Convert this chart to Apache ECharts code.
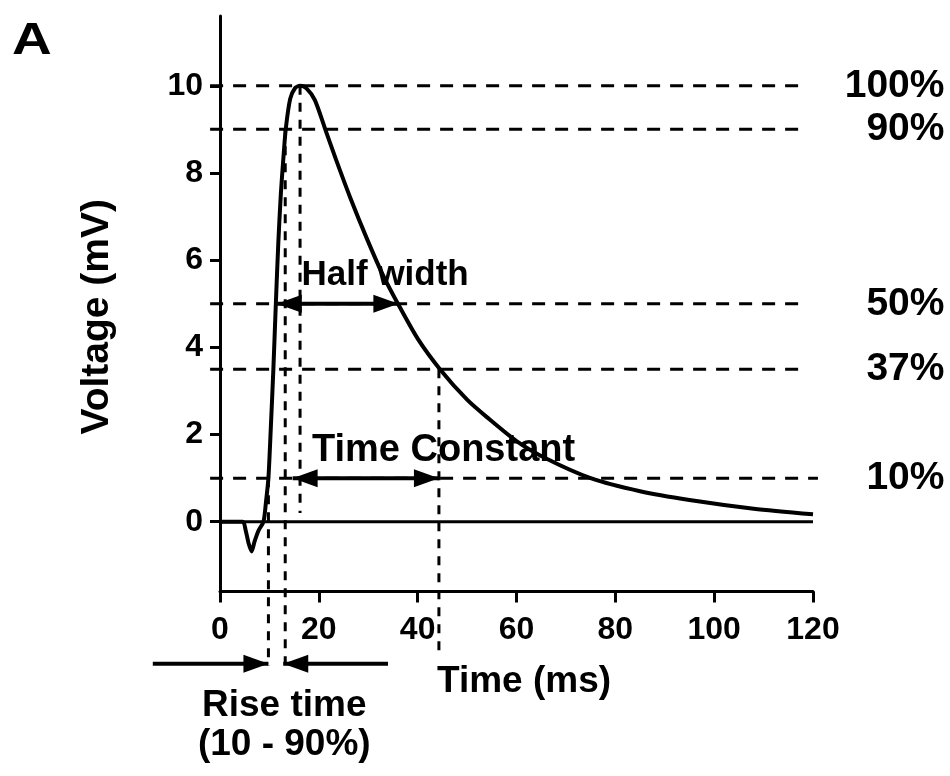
<!DOCTYPE html>
<html>
<head>
<meta charset="utf-8">
<script src="https://cdn.jsdelivr.net/npm/echarts@6/dist/echarts.min.js"></script>
<style>
html,body{margin:0;padding:0;background:#fff;}
#chart{width:950px;height:776px;}
</style>
</head>
<body>
<div id="chart"></div>
<script>
// ---- data ----
const timeMs  = [0, 4.6, 5.2, 5.8, 6.4, 7.0, 7.8, 8.8, 9.3, 9.8, 10.3, 10.8, 11.3, 11.8, 12.3, 12.8, 13.3, 14.2, 15.2, 16.2, 17.5, 19.2, 21.3, 23.5, 26.3, 29.7, 33, 36, 40, 44.5, 50, 54, 60, 66, 75, 85, 95, 108, 120];
const voltage = [0, 0, -0.2, -0.5, -0.68, -0.45, -0.2, 0, 0.45, 1.0, 2.2, 3.5, 5.0, 6.4, 7.5, 8.3, 9.0, 9.7, 9.95, 10.0, 9.94, 9.67, 9.0, 8.3, 7.45, 6.5, 5.65, 5.0, 4.2, 3.5, 2.8, 2.4, 1.85, 1.45, 1.0, 0.7, 0.5, 0.3, 0.17];
const yTickValues = [0, 2, 4, 6, 8, 10];
const levelValues = [10, 9, 5, 3.5, 1];
const levelLabels = ['100%', '90%', '50%', '37%', '10%'];
const riseStart = 9.8;     // 10% crossing (ms)
const riseEnd = 13.2;      // 90% crossing (ms)
const peakTime = 16.2;     // peak (ms)
const halfWidthStart = 11.5, halfWidthEnd = 36.1;
const tauStart = 14.7, tauEnd = 44.3;

// ---- styling / layout constants ----
const FONT = '"Liberation Sans", Arial, Helvetica, sans-serif';
const BLACK = '#000';
const H_DASH = [13, 10];
const V_DASH = [9, 8];
const LEVEL_START = -2, LEVEL_END = 118, LEVEL_END_LAST = 121;
const BELOW = -3.3;
const TAU_BELOW = -3.0;
const PEAK_GUIDE_END = 0.2;
const ARROW_Y = -3.26;
const ARROW_LEFT_FROM = -13.6, ARROW_RIGHT_TO = 34;
const LABEL_X = 146.6;

// main grid: x 0..120 spans px 220..813 ; helper grid shares the same scale but a wider range
const G_LEFT = 220, G_RIGHT = 137, G_TOP = 16, G_BOTTOM = 184.5;
const PX_PER_MS = (950 - G_LEFT - G_RIGHT) / 120;
const WIDE_MIN = -20, WIDE_MAX = 130;

const chart = echarts.init(document.getElementById('chart'), null, {renderer: 'canvas'});

const curve = timeMs.map((t, i) => [t, voltage[i]]);

function dashedSeg(p1, p2, dash, wide) {
  return {
    type: 'line', data: [p1, p2], showSymbol: false, clip: false, silent: true,
    xAxisIndex: wide ? 1 : 0, yAxisIndex: wide ? 1 : 0,
    lineStyle: {color: BLACK, width: 3, type: dash}, z: 2, animation: false
  };
}
function head(pt, dir) {
  const len = 25, wid = 18;
  return {
    value: pt, symbol: 'triangle', symbolSize: [wid, len],
    symbolRotate: dir === 'right' ? -90 : 90,
    symbolOffset: [dir === 'right' ? -len / 2 : len / 2, 0]
  };
}
function arrowSeries(data, wide) {
  return {
    type: 'line', data: data, showSymbol: true, clip: false, silent: true,
    xAxisIndex: wide ? 1 : 0, yAxisIndex: wide ? 1 : 0,
    lineStyle: {color: BLACK, width: 4}, itemStyle: {color: BLACK, borderWidth: 0, opacity: 1},
    z: 4, animation: false
  };
}
function textSeries(pt, text, pos, size) {
  return {
    type: 'scatter', data: [pt], symbolSize: 0, clip: false, silent: true, animation: false,
    itemStyle: {opacity: 1, color: BLACK},
    label: {show: true, position: pos, distance: 0, formatter: text, opacity: 1,
      fontFamily: FONT, fontWeight: 'bold', fontSize: size, color: BLACK}
  };
}

const series = [];
series.push({type: 'line', data: [[0, 0], [120, 0]], showSymbol: false, silent: true,
  lineStyle: {color: BLACK, width: 3}, z: 3, animation: false});
levelValues.forEach((v, i) => {
  const end = i === levelValues.length - 1 ? LEVEL_END_LAST : LEVEL_END;
  series.push(dashedSeg([LEVEL_START, v], [end, v], H_DASH, true));
});
series.push(dashedSeg([riseStart, levelValues[4]], [riseStart, BELOW], V_DASH));
series.push(dashedSeg([riseEnd, levelValues[1]], [riseEnd, BELOW], V_DASH));
series.push(dashedSeg([peakTime, levelValues[0]], [peakTime, PEAK_GUIDE_END], V_DASH));
series.push(dashedSeg([tauEnd, levelValues[3]], [tauEnd, TAU_BELOW], V_DASH));
series.push({type: 'line', name: 'Voltage', data: curve, showSymbol: false, smooth: 0.25,
  lineStyle: {color: BLACK, width: 4}, z: 5, animation: false});
series.push(arrowSeries([head([halfWidthStart, 5], 'left'), head([halfWidthEnd, 5], 'right')]));
series.push(arrowSeries([head([tauStart, 1], 'left'), head([tauEnd, 1], 'right')]));
series.push(arrowSeries([{value: [ARROW_LEFT_FROM, ARROW_Y], symbol: 'none'}, head([riseStart, ARROW_Y], 'right')], true));
series.push(arrowSeries([head([riseEnd - 0.4, ARROW_Y], 'left'), {value: [ARROW_RIGHT_TO, ARROW_Y], symbol: 'none'}]));
levelValues.forEach((v, i) => series.push(textSeries([LABEL_X, v], levelLabels[i], 'left', 39)));
series.push(textSeries([16.5, 5.66], 'Half width', 'right', 35));
series.push(textSeries([18.6, 1.64], 'Time Constant', 'right', 38));
series.push(textSeries([13.0, -4.23], 'Rise time', 'inside', 37));
series.push(textSeries([13.0, -5.12], '(10 - 90%)', 'inside', 37));

const hiddenAxis = {show: false, axisLine: {show: false}, axisTick: {show: false}, axisLabel: {show: false}, splitLine: {show: false}};

const option = {
  backgroundColor: '#fff',
  animation: false,
  grid: [
    {left: G_LEFT, right: G_RIGHT, top: G_TOP, bottom: G_BOTTOM, outerBoundsMode: 'none', containLabel: false},
    {left: G_LEFT + WIDE_MIN * PX_PER_MS, right: G_RIGHT - (WIDE_MAX - 120) * PX_PER_MS, top: G_TOP, bottom: G_BOTTOM,
     outerBoundsMode: 'none', containLabel: false, show: false}
  ],
  xAxis: [{
    type: 'value', min: 0, max: 120, interval: 20, gridIndex: 0,
    name: 'Time (ms)', nameLocation: 'middle', nameGap: 72,
    nameTextStyle: {fontFamily: FONT, fontWeight: 'bold', fontSize: 37, color: BLACK, padding: [0, 0, 0, 15]},
    axisLine: {onZero: false, lineStyle: {color: BLACK, width: 3}},
    axisTick: {show: true, inside: false, length: 11, lineStyle: {color: BLACK, width: 3}},
    axisLabel: {margin: 23, fontFamily: FONT, fontWeight: 'bold', fontSize: 32, color: BLACK},
    splitLine: {show: false}
  }, Object.assign({type: 'value', min: WIDE_MIN, max: WIDE_MAX, gridIndex: 1}, hiddenAxis)],
  yAxis: [{
    type: 'value', min: -1.6, max: 11.6, gridIndex: 0,
    name: 'Voltage (mV)', nameLocation: 'middle', nameGap: 103,
    nameTextStyle: {fontFamily: FONT, fontWeight: 'bold', fontSize: 39, color: BLACK, padding: [0, 26, 0, 0]},
    axisLine: {onZero: false, lineStyle: {color: BLACK, width: 3}},
    axisTick: {show: true, inside: false, length: 10, customValues: yTickValues, lineStyle: {color: BLACK, width: 3}},
    axisLabel: {margin: 17, customValues: yTickValues, fontFamily: FONT, fontWeight: 'bold', fontSize: 32, color: BLACK},
    splitLine: {show: false}
  }, Object.assign({type: 'value', min: -1.6, max: 11.6, gridIndex: 1}, hiddenAxis)],
  graphic: [{
    type: 'text', left: 12, top: 20, scaleX: 1.25,
    style: {text: 'A', font: 'bold 44px ' + FONT, fill: BLACK}
  }],
  series: series
};
chart.setOption(option);
</script>
</body>
</html>
